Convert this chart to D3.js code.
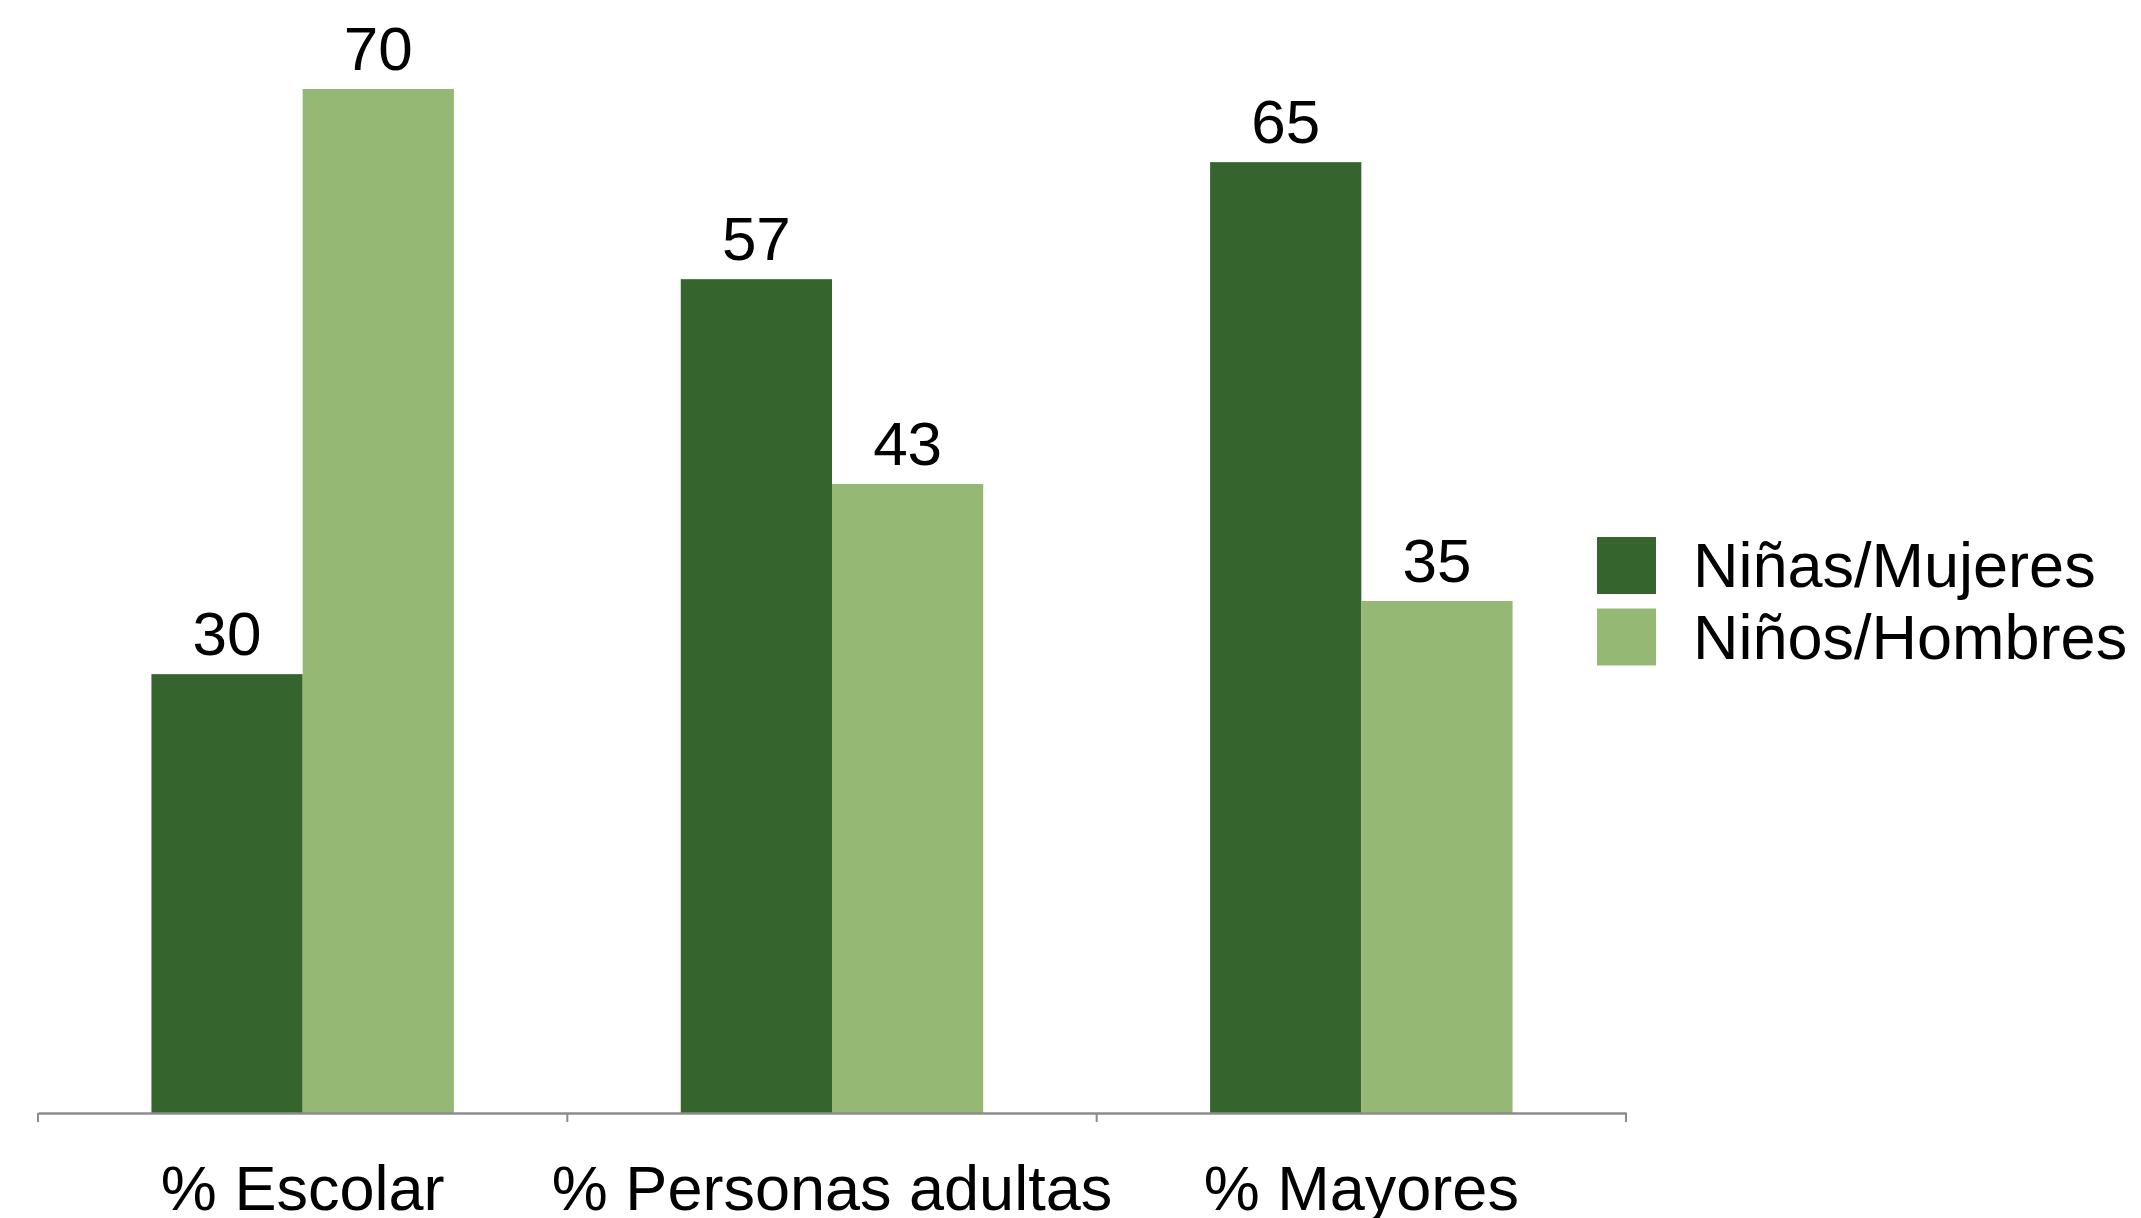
<!DOCTYPE html>
<html>
<head>
<meta charset="utf-8">
<script src="https://cdn.jsdelivr.net/npm/d3@7"></script>
<style>
  html, body { margin: 0; padding: 0; background: #ffffff; }
  svg { display: block; font-family: "Liberation Sans", Arial, sans-serif; }
</style>
</head>
<body>
<script>
const categories = ["% Escolar", "% Personas adultas", "% Mayores"];
const seriesNames = ["Niñas/Mujeres", "Niños/Hombres"];
const ninasMujeres = [30, 57, 65];
const ninosHombres = [70, 43, 35];
const seriesColors = ["#35652D", "#95B975"];

const W = 2141, H = 1218;
const svg = d3.select("body").append("svg").attr("width", W).attr("height", H);

const x0 = d3.scaleBand().domain(categories).range([38, 1626]).paddingInner(0).paddingOuter(0);
const x1 = d3.scaleBand().domain(seriesNames).range([0, x0.bandwidth()]).paddingInner(0).paddingOuter(0.75);
const y = d3.scaleLinear().domain([0, 70]).range([1113, 89]);

const seriesValues = [ninasMujeres, ninosHombres];
const rows = [];
categories.forEach((c, i) => {
  seriesNames.forEach((s, j) => rows.push({ cat: c, series: s, value: seriesValues[j][i], color: seriesColors[j] }));
});

const bars = svg.append("g");
bars.selectAll("rect").data(rows).join("rect")
  .attr("x", d => x0(d.cat) + x1(d.series))
  .attr("width", x1.bandwidth())
  .attr("y", d => y(d.value))
  .attr("height", d => y(0) - y(d.value))
  .attr("fill", d => d.color);

bars.selectAll("text").data(rows).join("text")
  .attr("x", d => x0(d.cat) + x1(d.series) + x1.bandwidth() / 2)
  .attr("y", d => y(d.value) - 19)
  .attr("text-anchor", "middle")
  .attr("font-size", 62)
  .attr("fill", "#000")
  .text(d => d.value);

// Axis
const axis = d3.axisBottom(x0).tickSize(0).tickFormat(d => d);
const gAxis = svg.append("g").attr("transform", `translate(0,${y(0)})`).call(axis);
gAxis.select(".domain").attr("stroke", "#8c8c8c").attr("stroke-width", 2.5);
gAxis.selectAll(".tick text")
  .attr("font-size", 63)
  .attr("font-family", "'Liberation Sans', Arial, sans-serif")
  .attr("fill", "#000")
  .attr("dy", null)
  .attr("y", 97);
// tick marks at band boundaries
const boundaries = categories.map(c => x0(c)).concat([x0.range()[1]]);
gAxis.selectAll("line.bnd").data(boundaries).join("line")
  .attr("class", "bnd")
  .attr("x1", d => d).attr("x2", d => d)
  .attr("y1", 0).attr("y2", 9)
  .attr("stroke", "#8c8c8c").attr("stroke-width", 2);

// Legend
const legend = svg.append("g").attr("transform", "translate(1597,537)");
const li = legend.selectAll("g").data(seriesNames).join("g")
  .attr("transform", (d, i) => `translate(0,${i * 71.5})`);
li.append("rect").attr("width", 59).attr("height", 57).attr("fill", (d, i) => seriesColors[i]);
li.append("text").attr("x", 96).attr("y", 50).attr("font-size", 63).attr("fill", "#000").text(d => d);
</script>
</body>
</html>
